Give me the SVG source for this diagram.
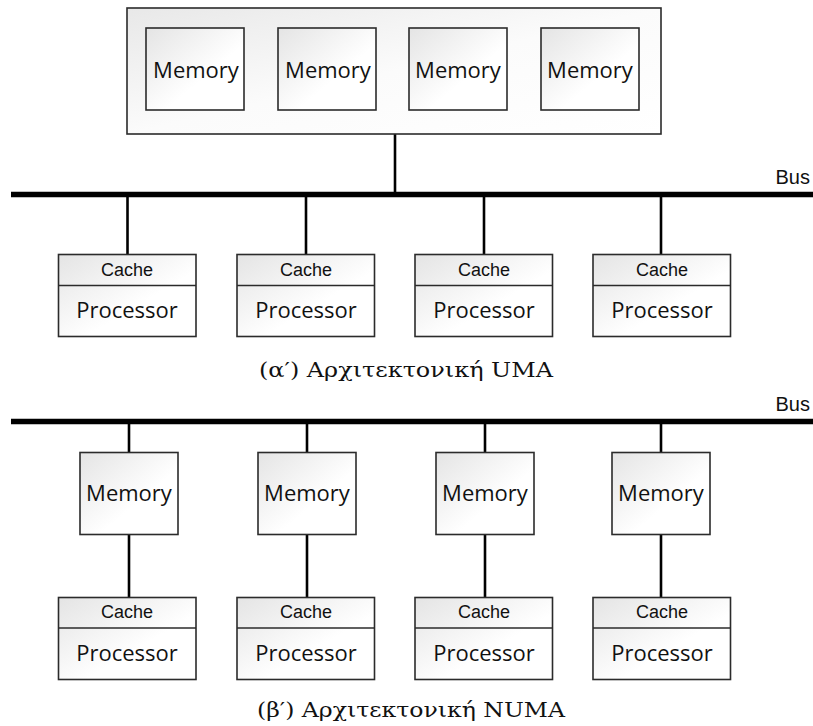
<svg xmlns="http://www.w3.org/2000/svg" width="813" height="726" viewBox="0 0 813 726">
<defs>
<linearGradient id="g" x1="0" y1="0" x2="1" y2="1">
<stop offset="0" stop-color="#e4e4e4"/>
<stop offset="0.6" stop-color="#ffffff"/>
<stop offset="1" stop-color="#ffffff"/>
</linearGradient>
<linearGradient id="gc" x1="0" y1="0" x2="1" y2="1">
<stop offset="0" stop-color="#e8e8e8"/>
<stop offset="0.5" stop-color="#fbfbfb"/>
<stop offset="1" stop-color="#ffffff"/>
</linearGradient>
</defs>
<style>
.box{fill:url(#g);stroke:#2b2b2b;stroke-width:1.6}
.cont{fill:url(#gc);stroke:#2b2b2b;stroke-width:1.6}
.div{stroke:#2b2b2b;stroke-width:1.6}
.mem{font-family:"Open Sans","Noto Sans",sans-serif;font-size:22px;fill:#111;text-anchor:middle}
.proc{font-family:"Open Sans","Noto Sans",sans-serif;font-size:22px;fill:#111;text-anchor:middle}
.cache{font-family:"Liberation Sans",Arial,sans-serif;font-size:18px;fill:#111;text-anchor:middle}
.bus{font-family:"Liberation Sans",Arial,sans-serif;font-size:20px;fill:#111;text-anchor:end}
.cap{font-family:"DejaVu Serif","Liberation Serif",serif;font-size:21px;fill:#111;text-anchor:middle}
.ln{stroke:#000;stroke-width:2.6;fill:none}
.busl{stroke:#000;stroke-width:5.5;fill:none}
</style>

<g id="connectors">
<line class="busl" x1="11" y1="194.5" x2="813" y2="194.5"/>
<line class="ln" x1="395" y1="134" x2="395" y2="192"/>
<line class="ln" x1="127.5" y1="197" x2="127.5" y2="255"/>
<line class="ln" x1="306" y1="197" x2="306" y2="255"/>
<line class="ln" x1="484" y1="197" x2="484" y2="255"/>
<line class="ln" x1="661" y1="197" x2="661" y2="255"/>
<line class="busl" x1="11" y1="421.5" x2="813" y2="421.5"/>
<line class="ln" x1="129" y1="424" x2="129" y2="452"/>
<line class="ln" x1="307" y1="424" x2="307" y2="452"/>
<line class="ln" x1="485" y1="424" x2="485" y2="452"/>
<line class="ln" x1="661" y1="424" x2="661" y2="452"/>
<line class="ln" x1="129" y1="535" x2="129" y2="597"/>
<line class="ln" x1="307" y1="535" x2="307" y2="597"/>
<line class="ln" x1="485" y1="535" x2="485" y2="597"/>
<line class="ln" x1="661" y1="535" x2="661" y2="597"/>
</g>

<g id="shared-memory">
<rect class="cont" x="127" y="8" width="534" height="126"/>
<g id="umem1"><rect class="box" x="146" y="28" width="98" height="82"/><text class="mem" x="196" y="78">Memory</text></g>
<g id="umem2"><rect class="box" x="278" y="28" width="98" height="82"/><text class="mem" x="328" y="78">Memory</text></g>
<g id="umem3"><rect class="box" x="409" y="28" width="98" height="82"/><text class="mem" x="458" y="78">Memory</text></g>
<g id="umem4"><rect class="box" x="541" y="28" width="98" height="82"/><text class="mem" x="590" y="78">Memory</text></g>
</g>

<text class="bus" x="810" y="184">Bus</text>

<g id="uproc1"><rect class="box" x="58.5" y="254.5" width="137.5" height="82"/><line class="div" x1="58.5" y1="285.5" x2="196" y2="285.5"/><text class="cache" x="127" y="276">Cache</text><text class="proc" x="127" y="318">Processor</text></g>
<g id="uproc2"><rect class="box" x="237" y="254.5" width="137.5" height="82"/><line class="div" x1="237" y1="285.5" x2="374.5" y2="285.5"/><text class="cache" x="306" y="276">Cache</text><text class="proc" x="306" y="318">Processor</text></g>
<g id="uproc3"><rect class="box" x="415" y="254.5" width="137.5" height="82"/><line class="div" x1="415" y1="285.5" x2="552.5" y2="285.5"/><text class="cache" x="484" y="276">Cache</text><text class="proc" x="484" y="318">Processor</text></g>
<g id="uproc4"><rect class="box" x="593" y="254.5" width="137.5" height="82"/><line class="div" x1="593" y1="285.5" x2="730.5" y2="285.5"/><text class="cache" x="662" y="276">Cache</text><text class="proc" x="662" y="318">Processor</text></g>

<text class="cap" x="406" y="377" textLength="294" lengthAdjust="spacingAndGlyphs">(α′)  Αρχιτεκτονική UMA</text>

<text class="bus" x="810" y="411">Bus</text>

<g id="nmem1"><rect class="box" x="80" y="452.5" width="98" height="82"/><text class="mem" x="129" y="501">Memory</text></g>
<g id="nmem2"><rect class="box" x="258" y="452.5" width="98" height="82"/><text class="mem" x="307" y="501">Memory</text></g>
<g id="nmem3"><rect class="box" x="436" y="452.5" width="98" height="82"/><text class="mem" x="485" y="501">Memory</text></g>
<g id="nmem4"><rect class="box" x="612" y="452.5" width="98" height="82"/><text class="mem" x="661" y="501">Memory</text></g>

<g id="nproc1"><rect class="box" x="58.5" y="597.5" width="137.5" height="82"/><line class="div" x1="58.5" y1="628" x2="196" y2="628"/><text class="cache" x="127" y="618">Cache</text><text class="proc" x="127" y="661">Processor</text></g>
<g id="nproc2"><rect class="box" x="237" y="597.5" width="137.5" height="82"/><line class="div" x1="237" y1="628" x2="374.5" y2="628"/><text class="cache" x="306" y="618">Cache</text><text class="proc" x="306" y="661">Processor</text></g>
<g id="nproc3"><rect class="box" x="415" y="597.5" width="137.5" height="82"/><line class="div" x1="415" y1="628" x2="552.5" y2="628"/><text class="cache" x="484" y="618">Cache</text><text class="proc" x="484" y="661">Processor</text></g>
<g id="nproc4"><rect class="box" x="593" y="597.5" width="137.5" height="82"/><line class="div" x1="593" y1="628" x2="730.5" y2="628"/><text class="cache" x="662" y="618">Cache</text><text class="proc" x="662" y="661">Processor</text></g>

<text class="cap" x="411" y="717" textLength="308" lengthAdjust="spacingAndGlyphs">(β′)  Αρχιτεκτονική NUMA</text>
</svg>
